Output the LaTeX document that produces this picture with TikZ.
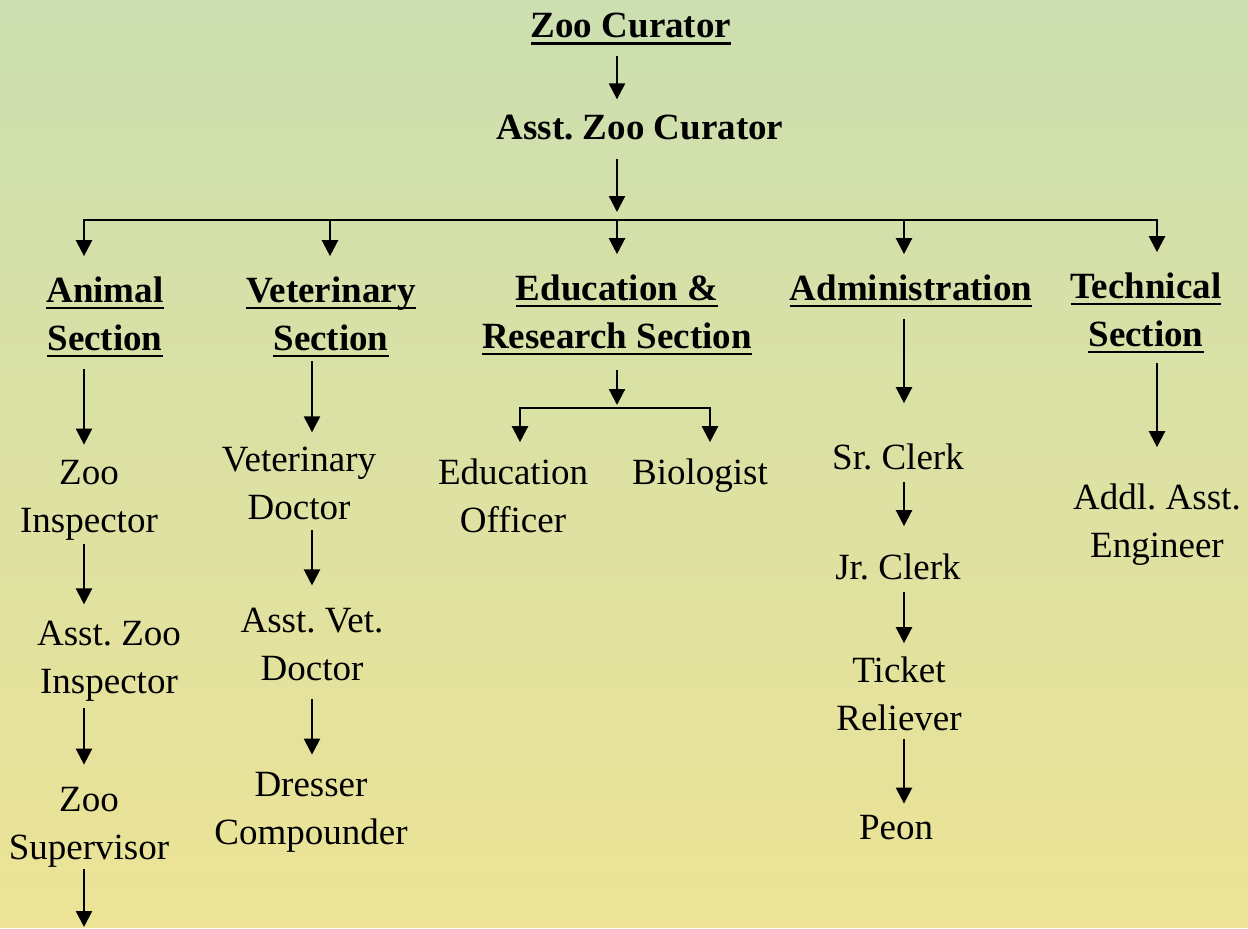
\documentclass[tikz,border=0pt]{standalone}
\usepackage{fontspec}
\setmainfont{Liberation Serif}
\usepackage{tikz}
\usetikzlibrary{arrows.meta,positioning}

\definecolor{TopGreen}{RGB}{204,223,176}
\definecolor{BottomYellow}{RGB}{236,227,150}
\frenchspacing

% underline at a fixed depth below the baseline
\newsavebox{\hdbox}
\newcommand{\hdline}[1]{\sbox{\hdbox}{#1}\rlap{\vrule height -4.5pt depth 7pt width \wd\hdbox}\usebox{\hdbox}}

\tikzset{
  post/.style={font=\fontsize{37}{48}\selectfont, align=center, inner sep=0pt, anchor=base},
  head/.style={post, font=\fontsize{37}{48}\selectfont\bfseries},
}

\begin{document}
\begin{tikzpicture}[x=1pt,y=-1pt,>={Triangle[width=16pt,length=16pt]},line width=2.3pt]

\fill[top color=TopGreen, bottom color=BottomYellow] (0,0) rectangle (1248,927);

% nodes sit on the baseline of their last line
\node[head] (ZC)  at (631,38)  {\hdline{Zoo Curator}};
\node[head] (AZC) at (640,140) {Asst. Zoo Curator};

\node[head] (S1) at (105,350)  {\hdline{Animal}\\\hdline{Section}};
\node[head] (S2) at (331,350)  {\hdline{Veterinary}\\\hdline{Section}};
\node[head] (S3) at (617,348)  {\hdline{Education \&}\\\hdline{Research Section}};
\node[head] (S4) at (911,300)  {\hdline{Administration}};
\node[head] (S5) at (1146,346) {\hdline{Technical}\\\hdline{Section}};

\node[post] (A1) at (89,532)  {Zoo\\Inspector};
\node[post] (A2) at (109,693) {Asst. Zoo\\Inspector};
\node[post] (A3) at (89,859)  {Zoo\\Supervisor};
\coordinate (A4) at (84,927);

\node[post] (V1) at (299,519) {Veterinary\\Doctor};
\node[post] (V2) at (312,680) {Asst. Vet.\\Doctor};
\node[post] (V3) at (311,844) {Dresser\\Compounder};

\node[post] (E1) at (513,532) {Education\\Officer};
\node[post] (E2) at (700,484) {Biologist};

\node[post] (D1) at (898,469) {Sr. Clerk};
\node[post] (D2) at (898,579) {Jr. Clerk};
\node[post] (D3) at (899,730) {Ticket\\Reliever};
\node[post] (D4) at (896,839) {Peon};

\node[post] (H1) at (1157,557) {Addl. Asst.\\Engineer};

% branch bars
\coordinate (T1) at (84,220);
\coordinate (T2) at (330,220);
\coordinate (T3) at (617,220);
\coordinate (T4) at (904,220);
\coordinate (T5) at (1157,220);
\coordinate (U0) at (617,408);
\coordinate (U1) at (520,408);
\coordinate (U2) at (710,408);

\draw[line cap=rect] (T1) -- (T5);
\draw[line cap=rect] (U1) -- (U2);

\path (ZC.south -| T3)   edge[->, shorten <=10pt, shorten >=15pt] (AZC.north -| T3)
      (AZC.south -| T3)  edge[->, shorten <=17pt, shorten >=8pt]  (T3);

\path (T1) edge[->, shorten >=19pt] (S1.north -| T1)
      (T2) edge[->, shorten >=19pt] (S2.north -| T2)
      (T3) edge[->, shorten >=19pt] (S3.north -| T3)
      (T4) edge[->, shorten >=19pt] (S4.north -| T4)
      (T5) edge[->, shorten >=19pt] (S5.north -| T5);

\path (S1.south -| T1) edge[->, shorten <=11pt, shorten >=14pt] (A1.north -| T1)
      (A1.south -| T1) edge[->, shorten <=3pt,  shorten >=15pt] (A2.north -| T1)
      (A2.south -| T1) edge[->, shorten <=6pt,  shorten >=21pt] (A3.north -| T1)
      (A3.south -| T1) edge[->, shorten <=1pt] (A4);

\path (S2.south -| V2) edge[->, shorten <=3pt,  shorten >=13pt] (V1.north -| V2)
      (V1.south -| V2) edge[->, shorten <=9pt,  shorten >=21pt] (V2.north)
      (V2.south)       edge[->, shorten <=17pt, shorten >=16pt] (V3.north -| V2);

\path (S3.south -| T3) edge[->, shorten <=14pt, shorten >=3pt] (U0)
      (U1) edge[->, shorten >=15pt] (E1.north -| U1)
      (U2) edge[->, shorten >=15pt] (E2.north -| U2);

\path (S4.south -| T4) edge[->, shorten <=11pt, shorten >=39pt] (D1.north -| T4)
      (D1.south -| T4) edge[->, shorten <=11pt, shorten >=26pt] (D2.north -| T4)
      (D2.south -| T4) edge[->, shorten <=11pt, shorten >=12pt] (D3.north -| T4)
      (D3.south -| T4) edge[->, shorten <=7pt,  shorten >=10pt] (D4.north -| T4);

\path (S5.south -| T5) edge[->, shorten <=9pt, shorten >=35pt] (H1.north -| T5);

\end{tikzpicture}
\end{document}
